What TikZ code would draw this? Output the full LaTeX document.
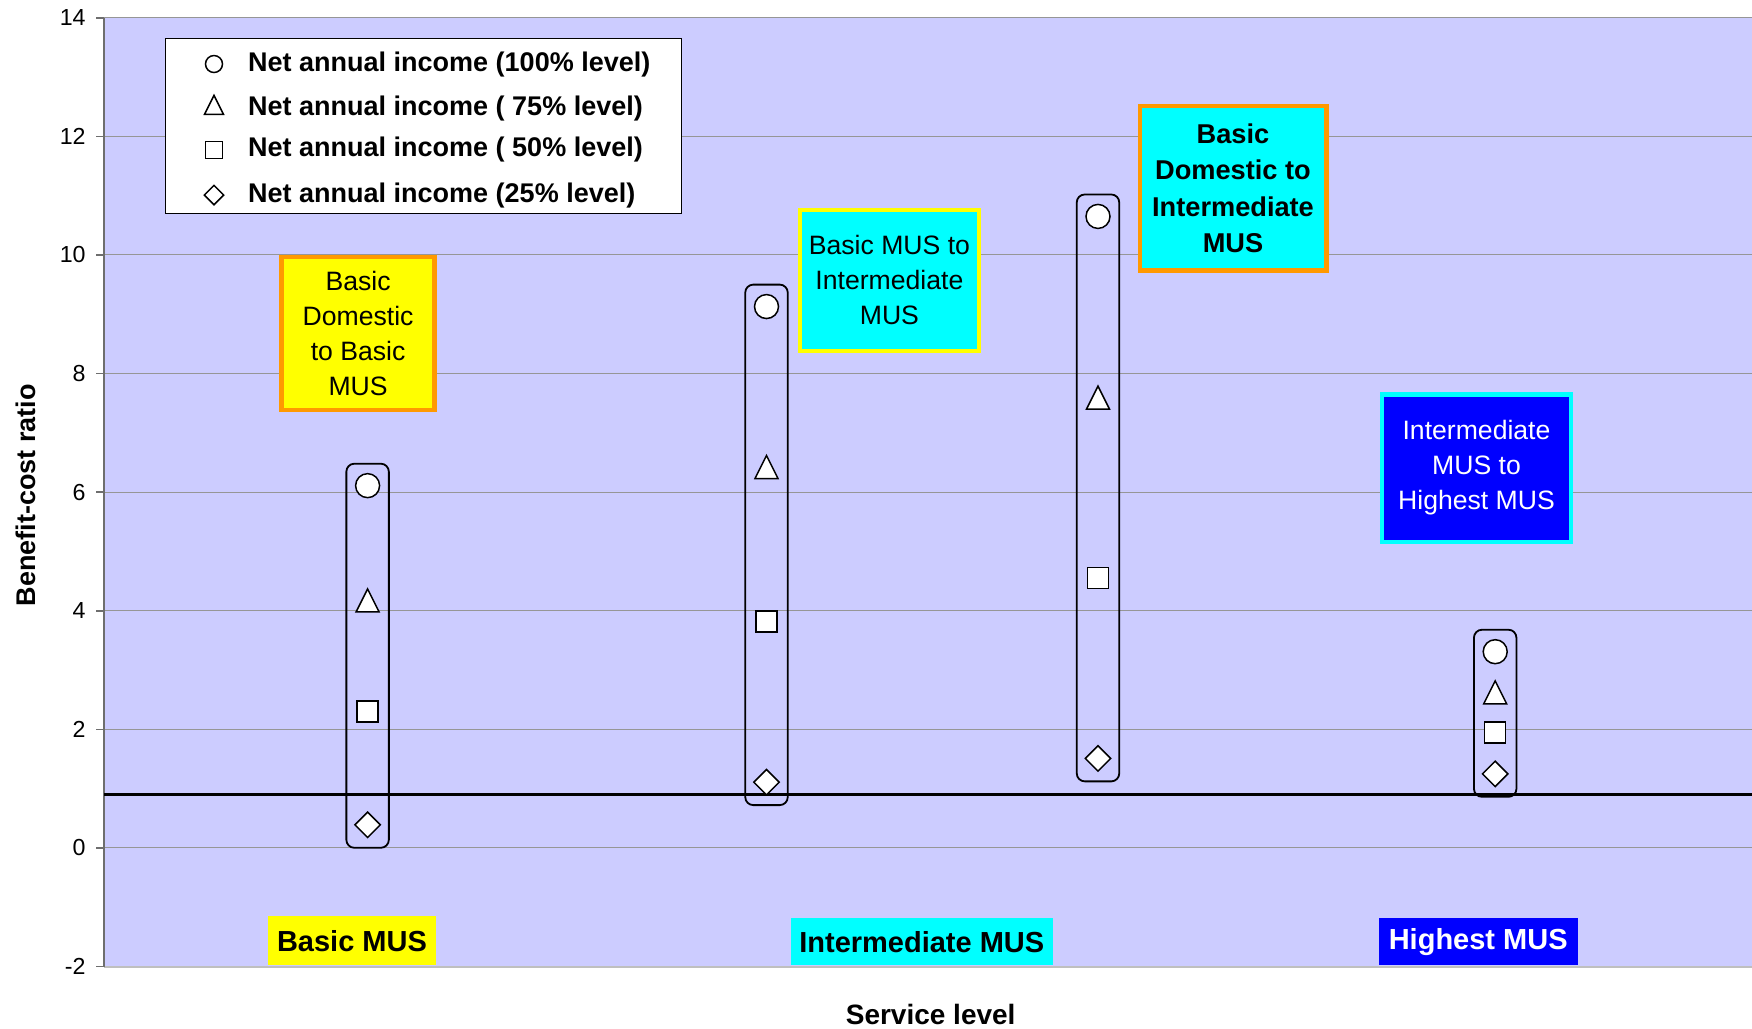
\documentclass[tikz,border=0pt]{standalone}
\usepackage{fontspec}
\setmainfont{Liberation Sans}
\usetikzlibrary{shapes.geometric,fit,positioning}

\definecolor{chartbg}{RGB}{204,204,255}
\definecolor{gridgray}{RGB}{150,150,150}
\definecolor{axisgray}{RGB}{110,110,110}
\definecolor{xlorange}{RGB}{255,153,0}
\definecolor{xlyellow}{RGB}{255,255,0}
\definecolor{xlcyan}{RGB}{0,255,255}
\definecolor{xlblue}{RGB}{0,0,255}

\tikzset{
  mkbase/.style={draw, fill=white, line width=0.75pt, inner sep=0pt},
  mcirc/.style={mkbase, circle, minimum size=#1}, mcirc/.default=12pt,
  mtri/.style={mkbase, isosceles triangle, isosceles triangle stretches,
    shape border rotate=90, minimum width=#1, minimum height=#1}, mtri/.default=11.5pt,
  msq/.style={mkbase, rectangle, minimum size=#1}, msq/.default=10.5pt,
  mdia/.style={mkbase, diamond, minimum size=#1}, mdia/.default=13pt,
  lcirc/.style={mcirc=8.5pt}, ltri/.style={mtri=9.5pt},
  lsq/.style={msq=8.3pt}, ldia/.style={mdia=10pt},
  grp/.style={draw, line width=0.9pt, rounded corners=4pt, inner xsep=3.75pt, inner ysep=4.6pt},
  note/.style={draw=#1, line width=2.25pt, align=center, inner sep=0pt,
    font=\fontsize{13.3}{17.5}\selectfont},
  tag/.style={inner sep=0pt, font=\bfseries\fontsize{14.5}{17}\selectfont}
}

\begin{document}
\begin{tikzpicture}[x=0.5pt, y=29.65pt]
  \useasboundingbox (0,-3.052) rectangle (1752,14.300);
  % plot area
  \fill[chartbg] (104,-2) rectangle (1752,14);
  \foreach \v in {0,2,...,14}{
    \draw[gridgray, line width=0.5pt] (104,\v) -- (1752,\v);
  }
  \draw[gray!50, line width=1pt] (104,-2) -- (1752,-2);
  \foreach \v in {-2,0,...,14}{
    \draw[axisgray, line width=0.75pt] (96,\v) -- (104,\v);
    \node[anchor=east, inner sep=0pt, font=\fontsize{11.6}{13}\selectfont] (tick\v) at (86,\v) {\v};
  }
  \draw[axisgray, line width=0.75pt] (104,-2) -- (104,14);
  \node[rotate=90, font=\bfseries\fontsize{13.5}{16}\selectfont] (ylabel) at (26,5.95) {Benefit-cost ratio};
  \node[font=\bfseries\fontsize{14}{16}\selectfont] (xlabel) at (930.7,-2.81) {Service level};

  % break-even line
  \draw[line width=1.5pt] (104,0.905) -- (1752,0.905);

  % benefit-cost ratios per upgrade
  \foreach \x/\a/\b/\c/\d [count=\i] in {367.6/6.11/4.10/2.30/0.39, 766.5/9.13/6.35/3.82/1.11,
      1098/10.65/7.52/4.55/1.51, 1495.2/3.31/2.55/1.95/1.25}{
    \node[mcirc] (c\i) at (\x,\a) {};
    \node[mtri] (t\i) at (\x,\b) {};
    \node[msq] (s\i) at (\x,\c) {};
    \node[mdia] (d\i) at (\x,\d) {};
    \node[grp, fit=(c\i)(d\i)] (grp\i) {};
  }

  % legend
  \node[draw, fill=white, line width=0.5pt, minimum width=258pt, minimum height=87.8pt] (legend) at (423.5,12.173) {};
  \foreach \sh/\lbl/\y [count=\r] in {lcirc/(100\% level)/13.22, ltri/( 75\% level)/12.47,
      lsq/( 50\% level)/11.77, ldia/(25\% level)/11.01}{
    \node[\sh] (lm\r) at (214,\y) {};
    \node[anchor=west, inner sep=0pt, font=\bfseries\fontsize{13.5}{16}\selectfont] (lt\r) at (247.8,\y) {Net annual income \lbl};
  }

  % upgrade notes
  \node[note=xlorange, fill=xlyellow, minimum width=76.5pt, minimum height=76.5pt] (bdbm) at (358.1,8.676)
    {Basic\\Domestic\\to Basic\\MUS};
  \node[note=xlyellow, fill=xlcyan, minimum width=89.4pt, minimum height=70.4pt] (bmim) at (889.4,9.570)
    {Basic MUS to\\Intermediate\\MUS};
  \node[note=xlorange, fill=xlcyan, minimum width=93.25pt, minimum height=82.1pt,
    font=\bfseries\fontsize{13.6}{18.25}\selectfont] (bdim) at (1233,11.125)
    {Basic\\Domestic to\\Intermediate\\MUS};
  \node[note=xlcyan, fill=xlblue, text=white, minimum width=94.4pt, minimum height=73.75pt] (imhm) at (1476.5,6.406)
    {Intermediate\\MUS to\\Highest MUS};

  % service levels
  \node[tag, fill=xlyellow, minimum width=83.8pt, minimum height=24.5pt] (basic) at (352,-1.565) {Basic MUS};
  \node[tag, fill=xlcyan, minimum width=130.75pt, minimum height=23.5pt] (inter) at (921.8,-1.583) {Intermediate MUS};
  \node[tag, fill=xlblue, text=white, minimum width=99.5pt, minimum height=23.5pt] (high) at (1478.2,-1.583) {Highest MUS};
\end{tikzpicture}
\end{document}
